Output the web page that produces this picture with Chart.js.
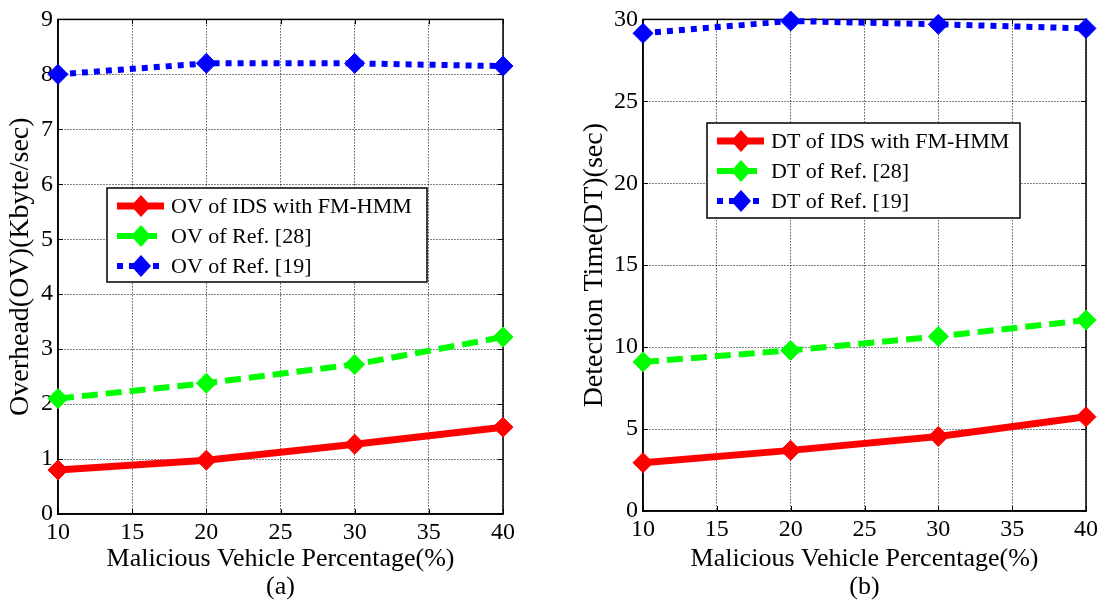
<!DOCTYPE html>
<html>
<head>
<meta charset="utf-8">
<script src="https://cdn.jsdelivr.net/npm/chart.js@4/dist/chart.umd.min.js"></script>
<style>
  html, body { margin: 0; padding: 0; background: #fff; }
  #wrap { position: relative; width: 1102px; height: 601px; }
  canvas { position: absolute; top: 0; }
</style>
</head>
<body>
<div id="wrap">
  <canvas id="chartA" width="551" height="601" style="left:0"></canvas>
  <canvas id="chartB" width="551" height="601" style="left:551px"></canvas>
</div>
<script>
'use strict';

// x values (malicious vehicle %)
var percentages = [10, 20, 30, 40];

// (a) overhead, Kbyte/sec
var ovLabels = ["OV of IDS with FM-HMM", "OV of Ref. [28]", "OV of Ref. [19]"];
var ovFmHmm = [0.8, 0.98, 1.27, 1.58];
var ovRef28 = [2.1, 2.38, 2.72, 3.22];
var ovRef19 = [8.0, 8.2, 8.2, 8.15];

// (b) detection time, sec
var dtLabels = ["DT of IDS with FM-HMM", "DT of Ref. [28]", "DT of Ref. [19]"];
var dtFmHmm = [2.95, 3.7, 4.55, 5.75];
var dtRef28 = [9.1, 9.8, 10.65, 11.65];
var dtRef19 = [29.15, 29.9, 29.7, 29.45];

var FONT = "'Liberation Serif', 'Times New Roman', serif";

// 線のスタイル
var lineColors = ["#ff0000", "#00ff00", "#0000ff"];
var lineDashes = [[], [16, 8], [6, 6]];
var lineWidths = [7, 6, 6];

function toPoints(values) {
  return values.map(function (v, i) { return { x: percentages[i], y: v }; });
}

function makeDatasets(labels, series) {
  return series.map(function (values, i) {
    return {
      label: labels[i],
      data: toPoints(values),
      borderColor: lineColors[i],
      backgroundColor: lineColors[i],
      borderWidth: lineWidths[i],
      borderDash: lineDashes[i],
      borderCapStyle: "butt",
      pointStyle: "rectRot",
      pointRadius: 10,
      pointBorderWidth: 1,
      pointBorderColor: lineColors[i],
      pointBackgroundColor: lineColors[i],
      tension: 0,
      clip: false,
    };
  });
}

// 枠・内向き目盛・凡例・キャプション
var matlabFrame = {
  id: "matlabFrame",
  beforeDatasetsDraw: function (chart) {
    var ctx = chart.ctx;
    var a = chart.chartArea;
    var xs = chart.scales.x;
    var ys = chart.scales.y;
    ctx.save();
    ctx.strokeStyle = "#000";
    ctx.lineWidth = 1;
    ctx.setLineDash([]);
    ctx.beginPath();
    xs.ticks.forEach(function (t) {
      var px = Math.round(xs.getPixelForValue(t.value)) + 0.5;
      ctx.moveTo(px, a.bottom); ctx.lineTo(px, a.bottom - 5);
      ctx.moveTo(px, a.top); ctx.lineTo(px, a.top + 5);
    });
    ys.ticks.forEach(function (t) {
      var py = Math.round(ys.getPixelForValue(t.value)) + 0.5;
      ctx.moveTo(a.left, py); ctx.lineTo(a.left + 5, py);
      ctx.moveTo(a.right, py); ctx.lineTo(a.right - 5, py);
    });
    ctx.stroke();
    ctx.lineWidth = 1.5;
    ctx.strokeRect(a.left, a.top, a.right - a.left, a.bottom - a.top);
    ctx.restore();
  },
  afterDatasetsDraw: function (chart, args, opts) {
    var ctx = chart.ctx;
    var box = opts.box;
    ctx.save();
    ctx.fillStyle = "#fff";
    ctx.fillRect(box[0], box[1], box[2] - box[0], box[3] - box[1]);
    ctx.strokeStyle = "#000";
    ctx.lineWidth = 1.5;
    ctx.setLineDash([]);
    ctx.strokeRect(box[0], box[1], box[2] - box[0], box[3] - box[1]);

    chart.data.datasets.forEach(function (ds, i) {
      var y = box[1] + 18 + i * 30;
      var x0 = box[0] + 10;
      ctx.strokeStyle = ds.borderColor;
      ctx.lineWidth = ds.borderWidth;
      ctx.setLineDash(ds.borderDash);
      ctx.beginPath();
      ctx.moveTo(x0, y);
      ctx.lineTo(x0 + 47, y);
      ctx.stroke();
      ctx.setLineDash([]);
      var cx = x0 + 24;
      ctx.fillStyle = ds.borderColor;
      ctx.beginPath();
      ctx.moveTo(cx, y - 11);
      ctx.lineTo(cx + 10, y);
      ctx.lineTo(cx, y + 11);
      ctx.lineTo(cx - 10, y);
      ctx.closePath();
      ctx.fill();
      ctx.fillStyle = "#000";
      ctx.font = "22px " + FONT;
      ctx.textBaseline = "middle";
      ctx.textAlign = "left";
      ctx.fillText(ds.label, box[0] + 64, y + 1);
    });

    var a = chart.chartArea;
    ctx.font = "26px " + FONT;
    ctx.textAlign = "center";
    ctx.textBaseline = "middle";
    ctx.fillStyle = "#000";
    ctx.fillText(opts.caption, (a.left + a.right) / 2, 587);
    ctx.restore();
  },
};

function makeChart(canvasId, labels, series, yMax, yStep, yTitle, yWidth, yTitlePad, padRight, padTop, xHeight, caption, box) {
  var ctx = document.getElementById(canvasId).getContext("2d");
  return new Chart(ctx, {
    type: "line",
    data: { datasets: makeDatasets(labels, series) },
    plugins: [matlabFrame],
    options: {
      responsive: false,
      animation: false,
      layout: { padding: { left: 0, right: padRight, top: padTop, bottom: 0 } },
      plugins: {
        legend: { display: false },
        tooltip: { enabled: false },
        matlabFrame: { caption: caption, box: box },
      },
      scales: {
        x: {
          type: "linear",
          min: 10,
          max: 40,
          ticks: { stepSize: 5, color: "#000", padding: 4, maxRotation: 0, font: { family: FONT, size: 24 } },
          grid: { color: "#000", lineWidth: 1, drawTicks: false, tickLength: 0 },
          border: { display: true, color: "#000", width: 1.5, dash: [1, 2] },
          title: {
            display: true,
            text: "Malicious Vehicle Percentage(%)",
            color: "#000",
            font: { family: FONT, size: 26, lineHeight: 1 },
            padding: { top: 0, bottom: 29 },
          },
          afterFit: function (scale) { scale.height = xHeight; },
        },
        y: {
          min: 0,
          max: yMax,
          ticks: { stepSize: yStep, color: "#000", padding: 5, font: { family: FONT, size: 24 } },
          grid: { color: "#000", lineWidth: 1, drawTicks: false, tickLength: 0 },
          border: { display: true, color: "#000", width: 1.5, dash: [1, 2] },
          title: {
            display: true,
            text: yTitle,
            color: "#000",
            font: { family: FONT, size: 28, lineHeight: 1 },
            padding: { top: yTitlePad, bottom: 0 },
          },
          afterFit: function (scale) { scale.width = yWidth; },
        },
      },
    },
  });
}

// grid lines dotted
Chart.defaults.scale.grid.borderDash = [1, 2];

var chartA = makeChart("chartA", ovLabels, [ovFmHmm, ovRef28, ovRef19], 9, 1,
  "Overhead(OV)(Kbyte/sec)", 58, 7, 48, 16, 87, "(a)", [107, 188, 427, 282]);

var chartB = makeChart("chartB", dtLabels, [dtFmHmm, dtRef28, dtRef19], 30, 5,
  "Detection Time(DT)(sec)", 92, 30, 14, 15, 90, "(b)", [156, 123, 469, 218]);
</script>
</body>
</html>
